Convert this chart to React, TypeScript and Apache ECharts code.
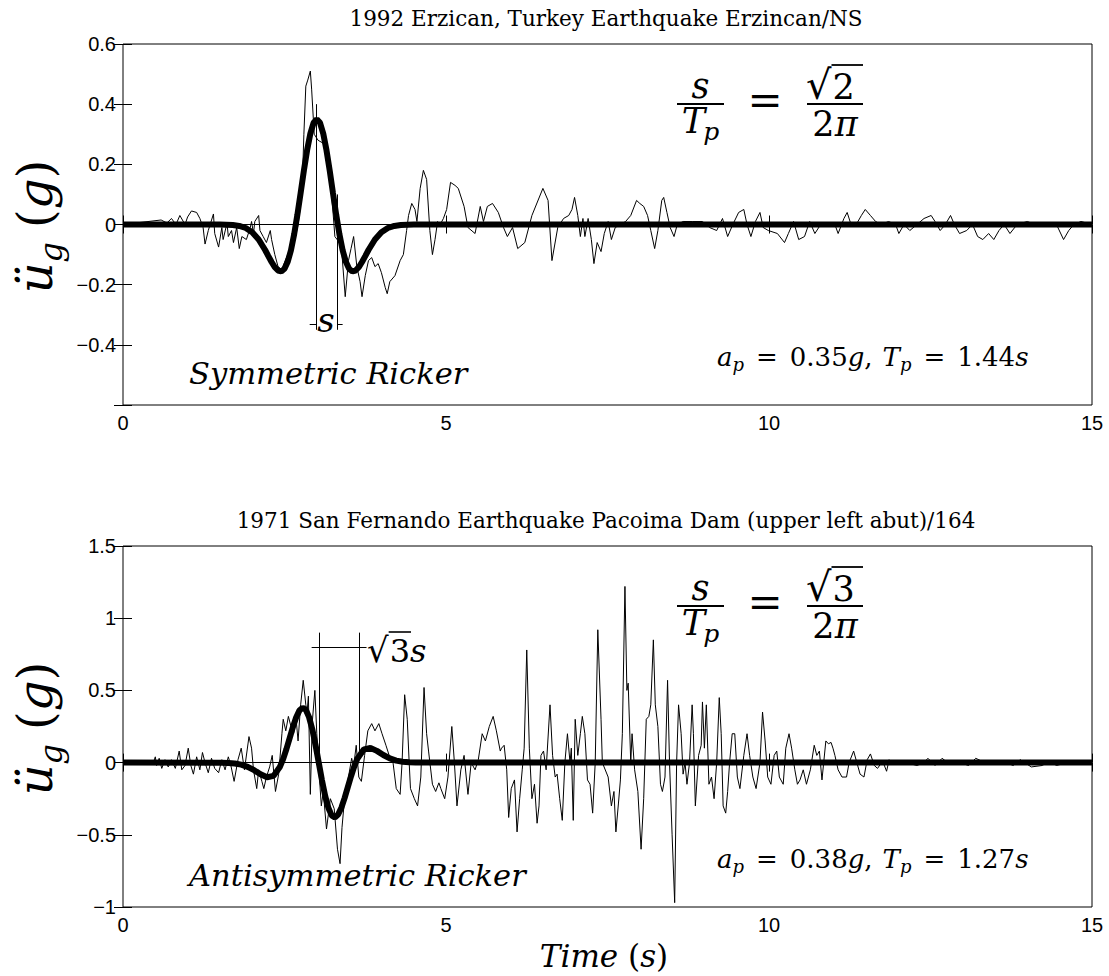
import React, { useEffect, useRef } from 'react';
import * as echarts from 'echarts';

const W = 1109;
const H = 976;
const SERIF = '"DejaVu Serif", serif';
const SANS = '"Liberation Sans", Arial, sans-serif';

// ---- axes ----
const timeTicks = [0, 5, 10, 15];
const timeTickLabels = ['0', '5', '10', '15'];
const topYTicks = [-0.6, -0.4, -0.2, 0, 0.2, 0.4, 0.6];
const topYLabels = ['', '−0.4', '−0.2', '0', '0.2', '0.4', '0.6'];
const botYTicks = [-1, -0.5, 0, 0.5, 1, 1.5];
const botYLabels = ['−1', '−0.5', '0', '0.5', '1', '1.5'];

// ---- titles / texts ----
const topTitle = '1992 Erzican, Turkey Earthquake Erzincan/NS';
const botTitle = '1971 San Fernando Earthquake Pacoima Dam (upper left abut)/164';

// ---- 1992 Erzincan NS record (time s, accel g) ----
const erzincanRecord: [number, number][] = [
  [0, 0], [0.59, 0.015], [0.68, 0.005], [0.75, 0.02], [0.82, 0], [0.88, 0.03], [0.96, 0], [1.0, 0.025], [1.06, 0.045],
  [1.14, 0.04], [1.19, 0.02], [1.24, -0.01], [1.27, -0.065], [1.32, -0.02], [1.4, 0.035], [1.42, -0.03], [1.48, -0.075],
  [1.53, -0.01], [1.55, -0.05], [1.61, 0.005], [1.63, -0.04], [1.68, -0.02], [1.71, -0.06], [1.76, -0.01], [1.8, -0.08],
  [1.84, -0.04], [1.91, -0.05], [1.97, -0.01], [1.99, 0.01], [2.02, -0.03], [2.04, 0.01], [2.1, 0.03], [2.12, -0.02],
  [2.17, -0.04], [2.22, -0.06], [2.28, -0.02], [2.3, -0.05], [2.35, -0.1], [2.4, -0.14], [2.46, -0.15], [2.51, -0.12],
  [2.59, -0.08], [2.66, -0.05], [2.71, 0], [2.77, 0.1], [2.8, 0.3], [2.83, 0.46], [2.86, 0.48], [2.9, 0.51], [2.92, 0.45],
  [2.96, 0.3], [3.02, 0.28], [3.1, 0.27], [3.15, 0.22], [3.2, 0.15], [3.23, 0.1], [3.28, -0.04], [3.35, -0.06],
  [3.39, -0.1], [3.44, -0.24], [3.49, -0.12], [3.53, -0.08], [3.57, -0.04], [3.62, -0.14], [3.67, -0.19], [3.7, -0.24],
  [3.75, -0.17], [3.8, -0.12], [3.85, -0.11], [3.9, -0.14], [3.95, -0.13], [4.0, -0.16], [4.06, -0.21], [4.09, -0.23],
  [4.13, -0.19], [4.21, -0.17], [4.29, -0.12], [4.34, -0.1], [4.39, -0.02], [4.42, 0.03], [4.47, 0.07], [4.52, 0.05],
  [4.55, 0.01], [4.6, 0.12], [4.65, 0.18], [4.7, 0.15], [4.75, -0.02], [4.79, -0.1], [4.83, -0.05], [4.87, 0.01],
  [4.91, 0], [4.96, 0.02], [5.01, 0.05], [5.07, 0.14], [5.14, 0.13], [5.19, 0.12], [5.28, 0.06], [5.34, -0.01],
  [5.45, -0.03], [5.53, 0.06], [5.58, 0.01], [5.64, 0.06], [5.72, 0.07], [5.81, 0.04], [5.89, -0.01], [5.95, -0.04],
  [6.03, -0.01], [6.11, -0.08], [6.22, -0.06], [6.33, 0.03], [6.5, 0.12], [6.58, 0.08], [6.64, -0.12], [6.73, -0.01],
  [6.82, 0.02], [6.9, 0.03], [6.95, 0.05], [6.99, 0.09], [7.04, 0.03], [7.08, -0.04], [7.12, 0.02], [7.15, -0.04],
  [7.2, 0.02], [7.25, -0.05], [7.29, -0.13], [7.34, -0.06], [7.4, -0.09], [7.45, -0.03], [7.51, 0.01], [7.56, -0.05],
  [7.62, -0.01], [7.7, 0], [7.78, 0.01], [7.86, 0.03], [7.95, 0.08], [8.0, 0.07], [8.06, 0.06], [8.12, 0.03],
  [8.17, -0.02], [8.23, -0.08], [8.28, -0.02], [8.34, 0.08], [8.37, 0.09], [8.42, 0.04], [8.47, -0.01], [8.53, -0.04],
  [8.58, 0], [8.67, 0.01], [8.81, 0.01], [8.97, 0.01], [9.08, -0.01], [9.19, -0.02], [9.28, 0.02], [9.36, -0.04],
  [9.44, 0], [9.53, 0.04], [9.61, 0.05], [9.66, 0], [9.72, -0.04], [9.79, 0.01], [9.86, 0.04], [9.91, -0.01],
  [9.99, -0.02], [10.13, -0.03], [10.24, -0.06], [10.3, -0.03], [10.38, 0.01], [10.46, -0.05], [10.55, -0.04],
  [10.63, 0.01], [10.71, -0.03], [10.8, 0], [10.91, 0], [11.02, 0], [11.07, -0.03], [11.16, 0.02], [11.21, 0.04],
  [11.27, 0], [11.35, 0], [11.43, 0.03], [11.49, 0.05], [11.57, 0.03], [11.65, 0.01], [11.74, 0], [11.85, 0.01],
  [11.96, 0], [12.01, -0.03], [12.09, 0], [12.18, -0.02], [12.29, 0], [12.4, 0.02], [12.51, 0.03], [12.57, 0.01],
  [12.65, -0.02], [12.73, 0], [12.81, 0.03], [12.87, 0], [12.95, -0.03], [13.06, -0.02], [13.15, 0], [13.23, -0.04],
  [13.31, -0.05], [13.4, -0.03], [13.48, -0.05], [13.56, -0.02], [13.64, 0], [13.73, -0.03], [13.84, 0], [14.0, 0.01],
  [14.11, 0], [14.45, 0], [14.56, -0.05], [14.64, -0.02], [14.72, 0], [14.83, 0.01], [15, 0],
];

// ---- symmetric Ricker fit (time s, accel g) ----
const erzincanRicker: [number, number][] = [
  [0, 0], [1.5, 0], [1.6, -0.0005], [1.7, -0.0017], [1.8, -0.0047], [1.9, -0.0116], [2.0, -0.0256], [2.1, -0.0497],
  [2.2, -0.0847], [2.25, -0.105], [2.3, -0.1245], [2.35, -0.142], [2.4, -0.153], [2.45, -0.156], [2.5, -0.147],
  [2.55, -0.124], [2.6, -0.0855], [2.65, -0.032], [2.7, 0.033], [2.75, 0.105], [2.8, 0.179], [2.85, 0.247], [2.9, 0.302],
  [2.95, 0.338], [3.0, 0.35], [3.05, 0.338], [3.1, 0.302], [3.15, 0.247], [3.2, 0.179], [3.25, 0.105], [3.3, 0.033],
  [3.35, -0.032], [3.4, -0.0855], [3.45, -0.124], [3.5, -0.147], [3.55, -0.156], [3.6, -0.153], [3.65, -0.142],
  [3.7, -0.1245], [3.75, -0.105], [3.8, -0.0847], [3.9, -0.0497], [4.0, -0.0256], [4.1, -0.0116], [4.2, -0.0047],
  [4.3, -0.0017], [4.4, -0.0005], [4.5, 0], [15, 0],
];

// ---- 1971 Pacoima Dam record (time s, accel g) ----
const pacoimaRecord: [number, number][] = [
  [0, 0], [0.47, 0], [0.5, 0.04], [0.52, -0.02], [0.56, 0.03], [0.6, -0.04], [0.65, 0.02], [0.7, -0.03], [0.75, 0.02],
  [0.81, -0.04], [0.87, 0.08], [0.91, -0.05], [0.96, -0.02], [1.01, 0.1], [1.05, -0.02], [1.09, -0.08], [1.14, 0.04],
  [1.19, -0.05], [1.23, 0.07], [1.27, 0], [1.32, -0.07], [1.37, 0.03], [1.42, -0.04], [1.48, -0.07], [1.53, 0.02],
  [1.58, -0.05], [1.63, 0.04], [1.67, -0.02], [1.72, -0.13], [1.78, 0.02], [1.83, 0.1], [1.88, -0.05], [1.95, 0.18],
  [1.99, 0.1], [2.02, -0.05], [2.07, -0.18], [2.1, -0.05], [2.15, -0.13], [2.18, -0.18], [2.22, -0.1], [2.27, -0.03],
  [2.31, 0.05], [2.36, -0.2], [2.41, -0.08], [2.46, 0.2], [2.48, 0.3], [2.52, 0.22], [2.56, 0.32], [2.6, 0.25],
  [2.64, 0.2], [2.68, 0.3], [2.71, 0.15], [2.75, 0.4], [2.79, 0.57], [2.83, 0.4], [2.85, 0.35], [2.87, 0.46],
  [2.9, -0.22], [2.93, 0.28], [2.97, 0.5], [3.0, 0.2], [3.04, -0.1], [3.07, -0.3], [3.1, -0.2], [3.15, -0.46],
  [3.21, -0.25], [3.27, -0.32], [3.32, -0.6], [3.36, -0.7], [3.39, -0.45], [3.43, -0.25], [3.49, -0.1], [3.54, 0.03],
  [3.57, -0.03], [3.61, 0.12], [3.65, -0.1], [3.69, -0.13], [3.74, 0.05], [3.79, 0.22], [3.85, 0.27], [3.9, 0.22],
  [3.96, 0.27], [4.01, 0.2], [4.07, 0.12], [4.12, 0.05], [4.18, 0], [4.23, -0.18], [4.29, -0.22], [4.32, 0],
  [4.36, 0.47], [4.4, 0.3], [4.43, 0], [4.45, -0.18], [4.51, -0.25], [4.56, -0.3], [4.61, -0.1], [4.66, 0.52],
  [4.7, 0.2], [4.73, 0.08], [4.79, -0.15], [4.84, -0.2], [4.89, -0.14], [4.92, -0.18], [4.98, -0.25], [5.03, -0.1],
  [5.09, 0.25], [5.13, 0], [5.17, -0.3], [5.23, -0.05], [5.28, 0.05], [5.34, -0.22], [5.39, 0], [5.45, -0.05],
  [5.5, 0.02], [5.56, 0.2], [5.61, 0.15], [5.67, 0.25], [5.73, 0.32], [5.78, 0.22], [5.84, 0.08], [5.86, 0.1],
  [5.9, 0.12], [5.94, -0.05], [5.97, -0.38], [6.01, -0.18], [6.06, -0.12], [6.1, -0.48], [6.14, -0.25], [6.18, -0.05],
  [6.21, 0.1], [6.25, 0.78], [6.29, 0.1], [6.33, -0.25], [6.37, -0.15], [6.41, -0.42], [6.44, -0.3], [6.47, 0.05],
  [6.51, 0.08], [6.55, -0.05], [6.61, 0.4], [6.65, 0.05], [6.69, -0.1], [6.72, -0.08], [6.76, -0.25], [6.8, -0.4],
  [6.84, 0], [6.88, 0.2], [6.92, 0], [6.94, 0.1], [6.97, -0.4], [7.0, 0.3], [7.04, 0.05], [7.08, 0.2], [7.11, 0.32],
  [7.15, 0.2], [7.19, -0.12], [7.23, -0.15], [7.27, -0.35], [7.31, 0], [7.35, 0.92], [7.4, 0.3], [7.42, 0],
  [7.51, -0.1], [7.56, -0.3], [7.6, -0.2], [7.63, -0.48], [7.67, -0.28], [7.7, -0.12], [7.73, 0.2], [7.77, 1.22],
  [7.8, 0.5], [7.82, 0.55], [7.86, 0], [7.88, 0.2], [7.92, -0.05], [7.97, -0.2], [8.02, -0.6], [8.06, -0.25],
  [8.1, 0.3], [8.14, 0.32], [8.17, 0.4], [8.21, 0.85], [8.24, 0.4], [8.28, 0.25], [8.32, -0.15], [8.35, -0.2],
  [8.39, -0.1], [8.43, 0.57], [8.46, 0], [8.5, -0.5], [8.54, -0.97], [8.57, 0], [8.6, 0.4], [8.64, 0.2], [8.67, -0.08],
  [8.7, 0], [8.73, -0.15], [8.77, 0], [8.81, 0.4], [8.83, 0.2], [8.86, -0.3], [8.91, 0.05], [8.95, 0.12], [8.97, 0.42],
  [9.0, 0.1], [9.03, 0.4], [9.07, -0.15], [9.11, -0.1], [9.15, -0.25], [9.19, 0], [9.23, 0.45], [9.26, 0.2],
  [9.29, -0.3], [9.33, -0.35], [9.36, -0.2], [9.39, 0], [9.43, 0.2], [9.47, 0.2], [9.51, -0.1], [9.55, -0.18],
  [9.61, 0.05], [9.66, 0.2], [9.7, 0.05], [9.75, -0.1], [9.8, -0.18], [9.86, 0], [9.9, 0.35], [9.94, 0.15],
  [9.98, -0.1], [10.03, -0.15], [10.08, 0.05], [10.12, 0.08], [10.16, -0.1], [10.22, -0.15], [10.26, 0.1], [10.31, 0.2],
  [10.35, 0.1], [10.4, -0.05], [10.44, -0.15], [10.48, -0.12], [10.53, -0.05], [10.58, -0.15], [10.64, -0.05],
  [10.7, 0.12], [10.74, 0.05], [10.78, 0.08], [10.82, -0.12], [10.88, 0.15], [10.92, 0.13], [10.96, 0.14], [10.99, 0.1],
  [11.02, 0.05], [11.07, -0.05], [11.13, -0.1], [11.2, -0.1], [11.24, 0], [11.31, 0.08], [11.36, 0], [11.41, -0.08],
  [11.47, -0.1], [11.52, 0.02], [11.57, 0.06], [11.63, -0.02], [11.68, -0.04], [11.76, 0.01], [11.82, -0.06],
  [11.86, 0.02], [11.9, 0], [12.04, -0.01], [12.12, 0], [12.29, -0.02], [12.4, 0], [12.46, 0.03], [12.57, -0.02],
  [12.68, 0.03], [12.79, -0.01], [12.95, 0], [13.09, -0.02], [13.2, 0.03], [13.34, 0], [13.51, -0.01], [13.67, 0],
  [13.78, -0.02], [13.89, 0.02], [14.06, -0.03], [14.23, -0.02], [14.34, 0.01], [14.45, -0.02], [14.61, 0], [15, 0],
];

// ---- antisymmetric Ricker fit (time s, accel g) ----
const pacoimaRicker: [number, number][] = [
  [0, 0], [1.43, -0.0002], [1.53, -0.0007], [1.63, -0.0022], [1.73, -0.0059], [1.83, -0.0139], [1.93, -0.029],
  [2.03, -0.0526], [2.13, -0.0812], [2.23, -0.1017], [2.33, -0.092], [2.43, -0.0286], [2.48, 0.026], [2.53, 0.0942],
  [2.58, 0.17], [2.63, 0.2458], [2.68, 0.3125], [2.73, 0.3601], [2.78, 0.3798], [2.83, 0.3654], [2.88, 0.315],
  [2.93, 0.2314], [2.98, 0.1226], [3.03, 0], [3.08, -0.1226], [3.13, -0.2314], [3.18, -0.315], [3.23, -0.3654],
  [3.28, -0.3798], [3.33, -0.3601], [3.38, -0.3125], [3.43, -0.2458], [3.48, -0.17], [3.53, -0.0942], [3.58, -0.026],
  [3.63, 0.0286], [3.73, 0.092], [3.83, 0.1017], [3.93, 0.0812], [4.03, 0.0526], [4.13, 0.029], [4.23, 0.0139],
  [4.33, 0.0059], [4.43, 0.0022], [4.53, 0.0007], [4.63, 0.0002], [15, 0],
];

// ---- annotation segments [x1, y1, x2, y2] in data units ----
const erzincanSpan: number[][] = [
  [2.99, 0.4, 2.99, -0.35],
  [3.32, 0.1, 3.32, -0.35],
  [2.89, -0.33, 2.99, -0.33],
  [3.32, -0.33, 3.4, -0.33],
];
const pacoimaSpan: number[][] = [
  [3.04, 0.9, 3.04, 0.0],
  [3.66, 0.9, 3.66, 0.08],
  [2.92, 0.8, 3.77, 0.8],
];

// ---------------- helpers ----------------
let mctx: CanvasRenderingContext2D | null = null;
function measure(text: string, size: number, italic: boolean) {
  if (!mctx) mctx = document.createElement('canvas').getContext('2d');
  mctx!.font = `${italic ? 'italic ' : ''}${size}px ${SERIF}`;
  return mctx!.measureText(text).width;
}
type Run = { t: string; s: number; i?: boolean; dy?: number; gap?: number };
function layout(x: number, baseline: number, runs: Run[], anchor: 'left' | 'center' = 'left') {
  const widths = runs.map((r) => measure(r.t, r.s, !!r.i));
  const total = runs.reduce((a, r, k) => a + widths[k] + (r.gap || 0), 0);
  let cx = anchor === 'center' ? x - total / 2 : x;
  const els: any[] = [];
  const starts: number[] = [];
  runs.forEach((r, k) => {
    cx += r.gap || 0;
    starts.push(cx);
    els.push({
      type: 'text',
      x: cx,
      y: baseline + (r.dy || 0) - 0.35 * r.s,
      z: 100,
      silent: true,
      style: {
        text: r.t,
        fontSize: r.s,
        fontFamily: SERIF,
        fontStyle: r.i ? 'italic' : 'normal',
        fill: '#000',
        align: 'left',
        verticalAlign: 'middle',
      },
    });
    cx += widths[k];
  });
  return { els, starts, widths, total };
}
function hline(x1: number, x2: number, y: number, w = 1.6) {
  return { type: 'line', z: 100, silent: true, shape: { x1, y1: y, x2, y2: y }, style: { stroke: '#000', lineWidth: w } };
}

function labelFrom(ticks: number[], labels: string[]) {
  return (v: number) => {
    const k = ticks.findIndex((t) => Math.abs(t - v) < 1e-6);
    return k >= 0 ? labels[k] : '';
  };
}

function panelGraphics(top: number, rootDigit: string, nameText: string, apText: string, tpText: string) {
  const els: any[] = [];
  const o = top - 44;
  // fraction s / T_p
  els.push(...layout(700.5, 98 + o, [{ t: 's', s: 35, i: true }], 'center').els);
  els.push(hline(677, 724, 104 + o, 2));
  els.push(...layout(700.5, 133 + o, [{ t: 'T', s: 35, i: true }, { t: 'p', s: 25, i: true, dy: 7, gap: -2 }], 'center').els);
  els.push(...layout(765, 115 + o, [{ t: '=', s: 42 }], 'center').els);
  const rt = layout(806, 99 + o, [{ t: '√', s: 40 }, { t: rootDigit, s: 35, gap: 1 }]);
  els.push(...rt.els);
  els.push(hline(rt.starts[1] - 1, 863, 65 + o, 1.8));
  els.push(hline(807, 863, 104 + o, 2));
  els.push(...layout(835, 136 + o, [{ t: '2', s: 35 }, { t: 'π', s: 35, i: true }], 'center').els);
  // a_p, T_p
  els.push(
    ...layout(717, 366 + o, [
      { t: 'a', s: 26, i: true },
      { t: 'p', s: 18, i: true, dy: 5 },
      { t: '=', s: 26, gap: 12 },
      { t: apText, s: 26, gap: 12 },
      { t: 'g', s: 26, i: true },
      { t: ',', s: 26 },
      { t: 'T', s: 26, i: true, gap: 10 },
      { t: 'p', s: 18, i: true, dy: 5 },
      { t: '=', s: 26, gap: 12 },
      { t: tpText, s: 26, gap: 12 },
      { t: 's', s: 26, i: true },
    ]).els
  );
  // pulse name
  els.push(...layout(189, 384 + o, [{ t: nameText, s: 30.5, i: true }]).els);
  // y label (rotated)
  const yl = layout(0, 0, [
    { t: 'ü', s: 48, i: true },
    { t: 'g', s: 32, i: true, dy: 10 },
    { t: '(', s: 48, gap: 14 },
    { t: 'g', s: 48, i: true },
    { t: ')', s: 48 },
  ], 'center');
  els.push({ type: 'group', x: 52, y: top + 180.5 + 2, rotation: Math.PI / 2, children: yl.els });
  return els;
}

function buildOption() {
  const tickStyle = { inside: true, length: 9, lineStyle: { color: '#000', width: 1 } };
  const labelStyle = { color: '#000', fontFamily: SANS, fontSize: 20 };
  const xAxes: any[] = [];
  const yAxes: any[] = [];
  [0, 1].forEach((g) => {
    xAxes.push({
      type: 'value', gridIndex: g, min: 0, max: 15, interval: 5, position: 'bottom',
      axisLine: { show: false }, splitLine: { show: false }, axisTick: tickStyle,
      axisLabel: { ...labelStyle, margin: 8, formatter: labelFrom(timeTicks, timeTickLabels) },
    });
    xAxes.push({
      type: 'value', gridIndex: g, min: 0, max: 15, interval: 5, position: 'top',
      axisLine: { show: false }, splitLine: { show: false }, axisTick: tickStyle, axisLabel: { show: false },
    });
    const yt = g === 0 ? topYTicks : botYTicks;
    const yl = g === 0 ? topYLabels : botYLabels;
    const ymin = g === 0 ? -0.6 : -1;
    const ymax = g === 0 ? 0.6 : 1.5;
    const yint = g === 0 ? 0.2 : 0.5;
    yAxes.push({
      type: 'value', gridIndex: g, min: ymin, max: ymax, interval: yint, position: 'left',
      axisLine: { show: false }, splitLine: { show: false }, axisTick: tickStyle,
      axisLabel: { ...labelStyle, margin: 7, formatter: labelFrom(yt, yl) },
    });
    yAxes.push({
      type: 'value', gridIndex: g, min: ymin, max: ymax, interval: yint, position: 'right',
      axisLine: { show: false }, splitLine: { show: false }, axisTick: tickStyle, axisLabel: { show: false },
    });
  });

  const mk = (spans: number[][]) => ({
    silent: true,
    symbol: ['none', 'none'],
    label: { show: false },
    emphasis: { disabled: true },
    lineStyle: { color: '#000', width: 1, type: 'solid' },
    data: [{ yAxis: 0 }, ...spans.map((s) => [{ coord: [s[0], s[1]] }, { coord: [s[2], s[3]] }])],
  });

  const series: any[] = [
    {
      type: 'line', xAxisIndex: 0, yAxisIndex: 0, data: erzincanRecord, showSymbol: false, symbol: 'none',
      lineStyle: { color: '#000', width: 1 }, silent: true, z: 2, markLine: mk(erzincanSpan),
    },
    {
      type: 'line', xAxisIndex: 0, yAxisIndex: 0, data: erzincanRicker, showSymbol: false, symbol: 'none',
      lineStyle: { color: '#000', width: 6 }, silent: true, z: 3,
    },
    {
      type: 'line', xAxisIndex: 2, yAxisIndex: 2, data: pacoimaRecord, showSymbol: false, symbol: 'none',
      lineStyle: { color: '#000', width: 1 }, silent: true, z: 2, markLine: mk(pacoimaSpan),
    },
    {
      type: 'line', xAxisIndex: 2, yAxisIndex: 2, data: pacoimaRicker, showSymbol: false, symbol: 'none',
      lineStyle: { color: '#000', width: 6 }, silent: true, z: 3,
    },
  ];

  const g: any[] = [];
  g.push(...layout(606, 26, [{ t: topTitle, s: 21.5 }], 'center').els);
  g.push(...layout(606, 528, [{ t: botTitle, s: 21.5 }], 'center').els);
  g.push(...panelGraphics(44, '2', 'Symmetric Ricker', '0.35', '1.44'));
  g.push(...panelGraphics(546, '3', 'Antisymmetric Ricker', '0.38', '1.27'));
  // "s" marker label (top)
  g.push(...layout(326, 331.5, [{ t: 's', s: 34, i: true }], 'center').els);
  // "√3 s" label (bottom)
  const r3 = layout(367, 662, [{ t: '√', s: 34 }, { t: '3', s: 32, gap: 1 }, { t: 's', s: 32, i: true }]);
  g.push(...r3.els);
  g.push(hline(r3.starts[1] - 1, r3.starts[1] + r3.widths[1] + 1, 632, 1.6));
  // x label
  g.push(
    ...layout(604, 967, [
      { t: 'Time', s: 31, i: true },
      { t: '(', s: 31, gap: 10 },
      { t: 's', s: 31, i: true },
      { t: ')', s: 31 },
    ], 'center').els
  );

  return {
    animation: false,
    backgroundColor: '#fff',
    grid: [
      { left: 123, top: 44, width: 969, height: 361, show: true, borderColor: '#000', borderWidth: 1, backgroundColor: 'transparent' },
      { left: 123, top: 546, width: 969, height: 361, show: true, borderColor: '#000', borderWidth: 1, backgroundColor: 'transparent' },
    ],
    xAxis: xAxes,
    yAxis: yAxes,
    series,
    graphic: { elements: g },
  };
}

export default function App() {
  const ref = useRef<HTMLDivElement>(null);
  useEffect(() => {
    if (!ref.current) return;
    const chart = echarts.init(ref.current, null, { renderer: 'svg' });
    chart.setOption(buildOption() as any);
    return () => {
      chart.dispose();
    };
  }, []);
  return <div ref={ref} style={{ position: 'absolute', left: 0, top: 0, width: W, height: H, background: '#fff' }} />;
}
